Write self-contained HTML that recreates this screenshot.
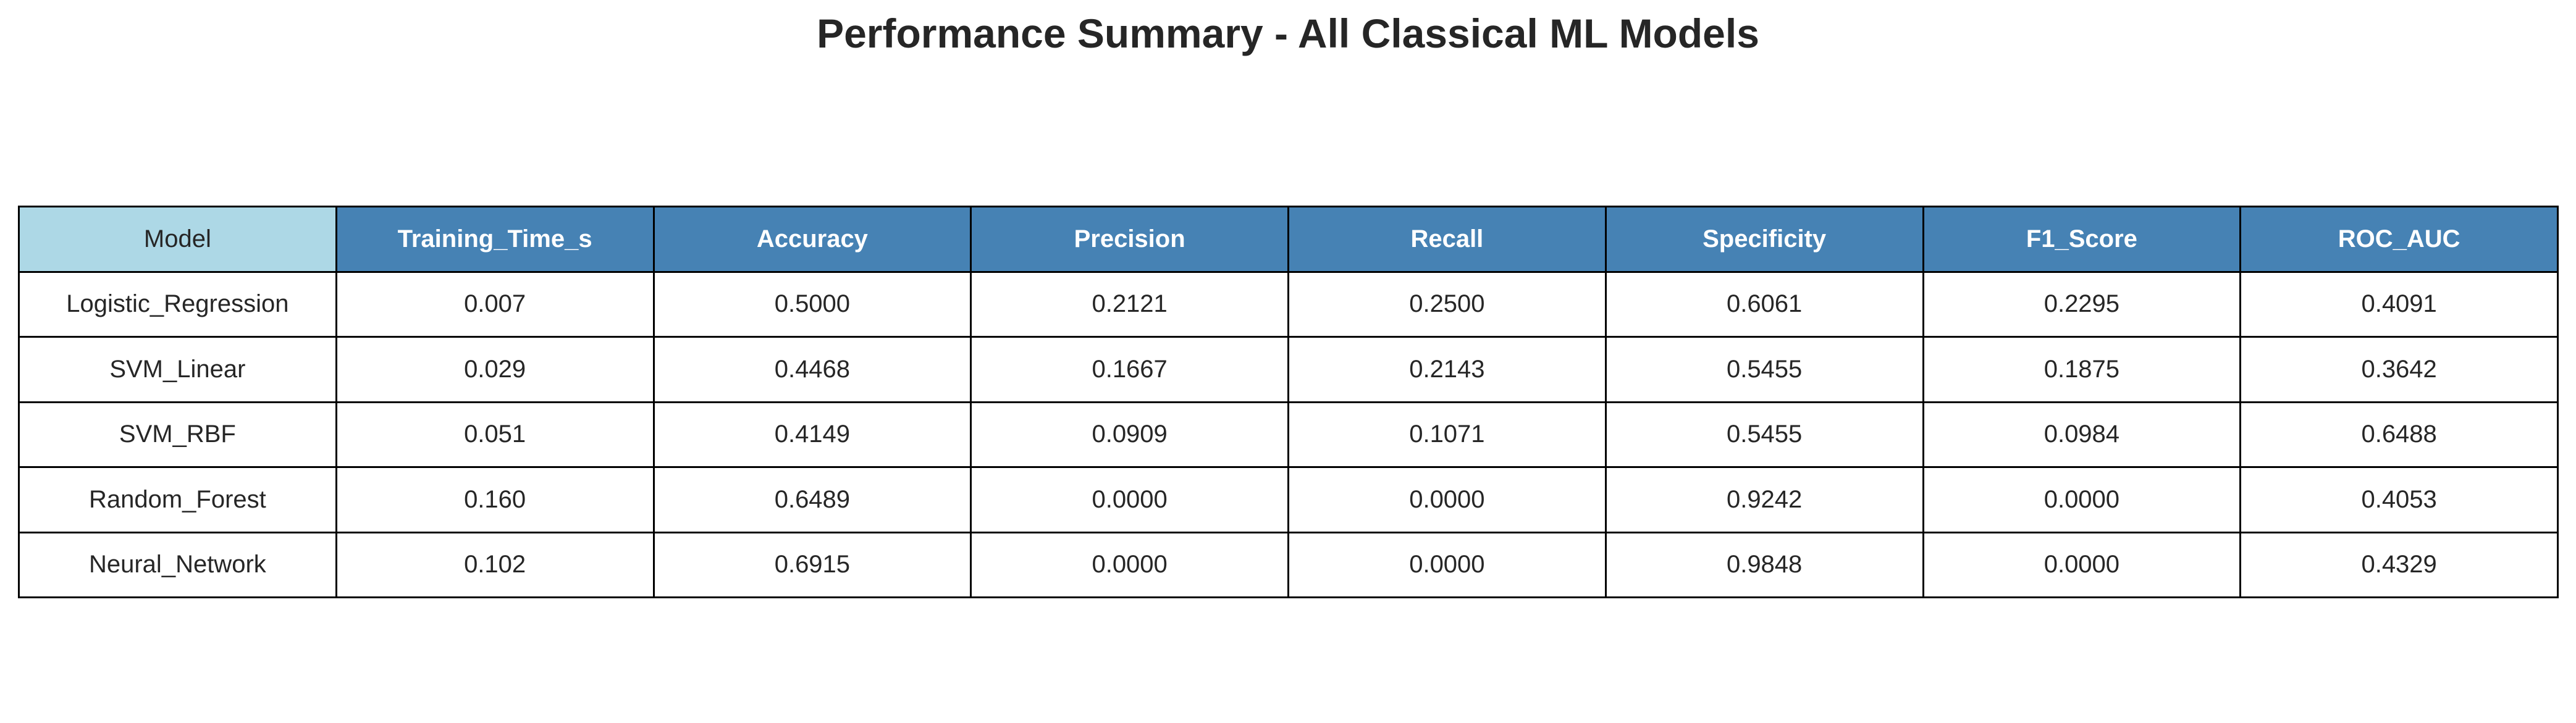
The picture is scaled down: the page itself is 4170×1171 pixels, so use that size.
<!DOCTYPE html>
<html><head><meta charset="utf-8"><style>
html,body{margin:0;padding:0;background:#fff;}
body{width:4170px;height:1171px;position:relative;overflow:hidden;font-family:"Liberation Sans",sans-serif;}
#title{position:absolute;left:0;width:4170px;top:16px;text-align:center;font-weight:bold;font-size:66px;color:#262626;}
table{position:absolute;left:29px;top:333px;width:4113px;height:636px;border-collapse:collapse;table-layout:fixed;}
td,th{border:3px solid #000;padding:0;text-align:center;font-size:40px;color:#262626;font-weight:normal;}
th{background:#4682b4;color:#fff;font-weight:bold;}
th.model{background:#add8e6;color:#262626;font-weight:normal;}
</style></head><body>
<div id="title">Performance Summary - All Classical ML Models</div>
<table id="tbl"></table>
<script>
const headers = ["Model","Training_Time_s","Accuracy","Precision","Recall","Specificity","F1_Score","ROC_AUC"];
const models = ["Logistic_Regression","SVM_Linear","SVM_RBF","Random_Forest","Neural_Network"];
const trainingTime = ["0.007","0.029","0.051","0.160","0.102"];
const accuracy = ["0.5000","0.4468","0.4149","0.6489","0.6915"];
const precision = ["0.2121","0.1667","0.0909","0.0000","0.0000"];
const recall = ["0.2500","0.2143","0.1071","0.0000","0.0000"];
const specificity = ["0.6061","0.5455","0.5455","0.9242","0.9848"];
const f1 = ["0.2295","0.1875","0.0984","0.0000","0.0000"];
const rocAuc = ["0.4091","0.3642","0.6488","0.4053","0.4329"];
const cols = [models,trainingTime,accuracy,precision,recall,specificity,f1,rocAuc];
const t = document.getElementById('tbl');
const hr = document.createElement('tr');


headers.forEach((h,i)=>{
  const th=document.createElement('th');
  th.textContent=h;
  if(i===0) th.className='model';
  
  
  hr.appendChild(th);
});
t.appendChild(hr);
models.forEach((m,r)=>{
  const tr=document.createElement('tr');
  
  
  cols.forEach((c,i)=>{
    const td=document.createElement('td');
    td.textContent=c[r];
    
    
    tr.appendChild(td);
  });
  t.appendChild(tr);
});
</script>
</body></html>
